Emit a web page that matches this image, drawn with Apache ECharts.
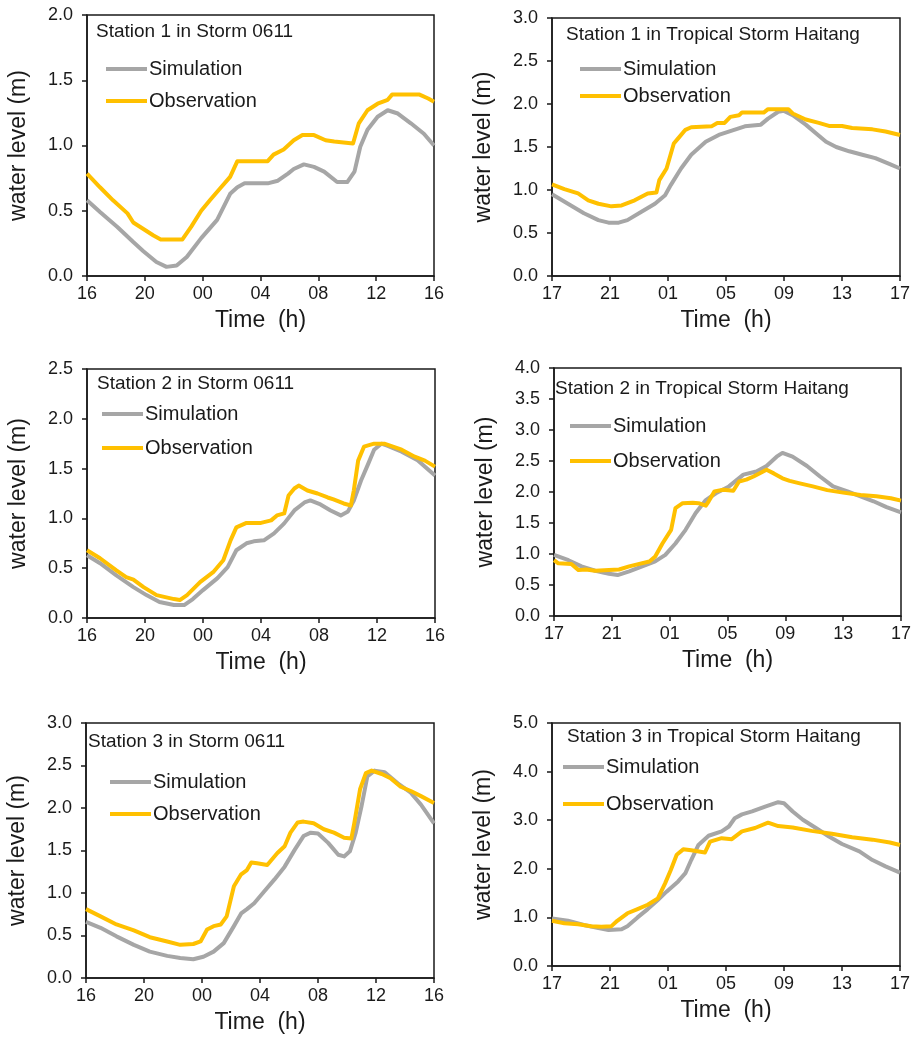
<!DOCTYPE html>
<html>
<head>
<meta charset="utf-8">
<script src="https://cdn.jsdelivr.net/npm/echarts@6/dist/echarts.min.js"></script>
<style>html,body{margin:0;padding:0;background:#fff}#c{width:916px;height:1040px}</style>
</head>
<body>
<div id="c"></div>
<script>
// ---- tick labels ----
const ticksStorm = ['16','20','00','04','08','12','16'];
const ticksHaitang = ['17','21','01','05','09','13','17'];

// ---- titles ----
const titles = [
  'Station 1 in Storm 0611', 'Station 1 in Tropical Storm Haitang',
  'Station 2 in Storm 0611', 'Station 2 in Tropical Storm Haitang',
  'Station 3 in Storm 0611', 'Station 3 in Tropical Storm Haitang'
];
const yMax = [2.0, 3.0, 2.5, 4.0, 3.0, 5.0];
const yStep = [0.5, 0.5, 0.5, 0.5, 0.5, 1.0];

// ---- data: [hours since start, water level m] ----
const st1StormSim = [[0,0.58],[0.9,0.49],[2.1,0.376],[3.2,0.26],[3.9,0.19],[4.8,0.107],[5.5,0.07],[6.2,0.08],[6.9,0.146],[7.9,0.29],[9.0,0.43],[9.9,0.63],[10.4,0.68],[10.9,0.71],[12.5,0.71],[13.2,0.73],[13.9,0.785],[14.3,0.82],[15.0,0.855],[15.7,0.836],[16.4,0.80],[17.3,0.72],[18.0,0.72],[18.5,0.80],[18.9,0.99],[19.4,1.12],[20.1,1.22],[20.8,1.27],[21.5,1.245],[22.4,1.17],[23.3,1.09],[24,1.0]];
const st1StormObs = [[0,0.785],[0.9,0.68],[1.8,0.58],[2.8,0.48],[3.2,0.41],[3.9,0.36],[4.6,0.31],[5.1,0.28],[6.6,0.28],[7.2,0.376],[7.9,0.50],[8.5,0.58],[9.2,0.67],[9.9,0.76],[10.4,0.88],[12.5,0.88],[12.9,0.93],[13.6,0.97],[14.3,1.04],[14.9,1.08],[15.7,1.08],[16.5,1.04],[17.1,1.03],[18.4,1.015],[18.8,1.17],[19.4,1.27],[20.1,1.32],[20.8,1.35],[21.1,1.39],[23.0,1.39],[23.6,1.36],[24,1.335]];
const st1HaitangSim = [[0,0.95],[1.1,0.84],[2.2,0.73],[3.2,0.65],[3.9,0.62],[4.6,0.62],[5.2,0.65],[6.2,0.75],[7.1,0.84],[7.8,0.94],[8.2,1.06],[8.9,1.25],[9.6,1.41],[10.6,1.56],[11.5,1.64],[12.4,1.69],[13.3,1.74],[14.4,1.76],[14.9,1.83],[15.6,1.91],[16.0,1.92],[16.6,1.87],[17.5,1.76],[18.2,1.66],[18.9,1.56],[19.6,1.50],[20.5,1.45],[21.4,1.41],[22.3,1.37],[23.3,1.30],[24,1.25]];
const st1HaitangObs = [[0,1.065],[0.85,1.01],[1.8,0.96],[2.5,0.88],[3.2,0.84],[4.1,0.81],[4.8,0.82],[5.7,0.88],[6.6,0.96],[7.2,0.97],[7.4,1.115],[7.9,1.25],[8.4,1.54],[8.7,1.60],[9.2,1.70],[9.6,1.73],[11.0,1.74],[11.4,1.78],[11.9,1.78],[12.3,1.85],[12.9,1.87],[13.1,1.90],[14.6,1.90],[14.9,1.94],[16.3,1.94],[16.6,1.89],[17.5,1.82],[18.4,1.78],[19.1,1.745],[20.0,1.745],[20.7,1.72],[22.1,1.705],[23.0,1.68],[24,1.64]];
const st2StormSim = [[0,0.63],[0.9,0.55],[2.0,0.43],[3.2,0.31],[4.1,0.23],[5.0,0.16],[6.0,0.13],[6.7,0.13],[7.3,0.19],[8.0,0.28],[9.0,0.40],[9.7,0.51],[10.3,0.68],[11.0,0.75],[11.5,0.77],[12.2,0.78],[12.9,0.85],[13.6,0.95],[14.3,1.08],[15.0,1.16],[15.4,1.18],[16.1,1.14],[16.8,1.08],[17.5,1.03],[18.0,1.07],[18.4,1.18],[18.9,1.38],[19.4,1.55],[19.8,1.69],[20.3,1.75],[20.7,1.73],[21.7,1.67],[22.8,1.585],[24,1.43]];
const st2StormObs = [[0,0.68],[0.9,0.60],[2.0,0.48],[2.7,0.41],[3.2,0.385],[3.9,0.31],[4.8,0.23],[6.0,0.19],[6.4,0.18],[6.9,0.23],[7.8,0.36],[8.7,0.46],[9.4,0.58],[9.9,0.78],[10.3,0.91],[11.0,0.955],[12.0,0.955],[12.7,0.98],[13.1,1.03],[13.6,1.05],[13.9,1.23],[14.3,1.30],[14.6,1.33],[15.2,1.28],[15.9,1.25],[16.6,1.21],[17.0,1.19],[17.7,1.15],[18.2,1.13],[18.4,1.28],[18.7,1.58],[19.1,1.72],[19.8,1.75],[20.5,1.75],[21.7,1.69],[22.6,1.62],[23.3,1.58],[24,1.52]];
const st2HaitangSim = [[0,0.985],[1.0,0.90],[1.9,0.80],[2.85,0.73],[3.8,0.68],[4.4,0.66],[5.2,0.72],[6.1,0.80],[7.0,0.88],[7.7,0.985],[8.4,1.17],[9.1,1.39],[9.8,1.66],[10.5,1.87],[11.2,1.98],[12.1,2.09],[13.1,2.28],[14.0,2.33],[14.7,2.42],[15.4,2.57],[15.8,2.63],[16.5,2.57],[17.5,2.42],[18.4,2.25],[19.3,2.09],[20.3,2.01],[21.2,1.93],[22.1,1.85],[23.0,1.755],[24,1.67]];
const st2HaitangObs = [[0,0.90],[0.3,0.85],[1.2,0.84],[1.7,0.74],[2.2,0.75],[2.85,0.73],[3.8,0.74],[4.5,0.75],[5.2,0.80],[5.9,0.84],[6.6,0.88],[7.0,0.96],[7.5,1.17],[8.1,1.39],[8.4,1.74],[8.9,1.82],[9.6,1.825],[10.0,1.82],[10.5,1.78],[10.7,1.85],[11.1,2.01],[11.7,2.035],[12.4,2.02],[12.8,2.17],[13.3,2.20],[13.8,2.25],[14.2,2.30],[14.7,2.36],[15.2,2.30],[15.8,2.22],[16.3,2.18],[17.0,2.14],[17.9,2.09],[18.9,2.03],[20.0,1.99],[21.2,1.95],[22.3,1.93],[23.3,1.90],[24,1.86]];
const st3StormSim = [[0,0.66],[1.0,0.59],[2.1,0.49],[3.3,0.39],[4.4,0.31],[5.6,0.26],[6.5,0.235],[7.4,0.22],[8.1,0.25],[8.8,0.31],[9.5,0.41],[10.2,0.61],[10.7,0.76],[11.1,0.81],[11.6,0.88],[12.3,1.02],[13.0,1.16],[13.7,1.31],[14.4,1.51],[15.0,1.67],[15.5,1.71],[16.0,1.70],[16.7,1.59],[17.4,1.45],[17.8,1.43],[18.2,1.49],[18.6,1.71],[19.0,2.02],[19.4,2.37],[19.9,2.44],[20.6,2.42],[21.5,2.29],[22.4,2.18],[23.1,2.04],[24,1.82]];
const st3StormObs = [[0,0.81],[1.0,0.725],[2.1,0.63],[3.3,0.56],[4.4,0.48],[5.6,0.43],[6.5,0.39],[7.4,0.40],[7.9,0.43],[8.35,0.57],[8.8,0.61],[9.3,0.63],[9.7,0.725],[10.2,1.08],[10.7,1.22],[11.1,1.27],[11.4,1.36],[11.8,1.35],[12.5,1.33],[13.2,1.47],[13.7,1.55],[14.1,1.71],[14.6,1.83],[15.0,1.84],[15.7,1.82],[16.4,1.75],[17.1,1.71],[17.8,1.65],[18.3,1.64],[18.5,1.82],[18.9,2.22],[19.3,2.41],[19.7,2.44],[20.4,2.40],[21.0,2.35],[21.7,2.25],[22.4,2.20],[23.1,2.14],[24,2.06]];
const st3HaitangSim = [[0,0.98],[1.1,0.93],[2.2,0.845],[3.2,0.78],[3.9,0.74],[4.8,0.755],[5.2,0.82],[5.9,1.0],[6.6,1.17],[7.3,1.36],[7.9,1.53],[8.7,1.74],[9.2,1.91],[9.6,2.18],[10.1,2.49],[10.8,2.68],[11.7,2.77],[12.2,2.87],[12.6,3.04],[13.1,3.12],[13.8,3.18],[14.7,3.28],[15.6,3.37],[16.0,3.35],[16.6,3.18],[17.3,3.01],[18.2,2.84],[19.1,2.665],[20.0,2.51],[21.2,2.36],[22.1,2.18],[23.0,2.05],[24,1.92]];
const st3HaitangObs = [[0,0.93],[0.85,0.88],[1.8,0.86],[2.7,0.82],[3.4,0.81],[4.1,0.82],[4.5,0.93],[5.2,1.085],[5.9,1.17],[6.6,1.26],[7.3,1.39],[7.8,1.70],[8.2,1.98],[8.6,2.29],[9.05,2.40],[9.6,2.38],[10.55,2.335],[10.9,2.56],[11.7,2.63],[12.4,2.61],[13.1,2.77],[14.0,2.84],[14.9,2.95],[15.6,2.88],[16.6,2.85],[17.9,2.78],[19.3,2.72],[20.7,2.65],[22.1,2.60],[23.3,2.54],[24,2.49]];

const simSets = [st1StormSim, st1HaitangSim, st2StormSim, st2HaitangSim, st3StormSim, st3HaitangSim];
const obsSets = [st1StormObs, st1HaitangObs, st2StormObs, st2HaitangObs, st3StormObs, st3HaitangObs];

// ---- layout (pixels) ----
const grids = [
  {left:87, top:15, width:347, height:261},
  {left:552, top:18, width:348, height:258},
  {left:87, top:369, width:348, height:249},
  {left:554, top:368, width:347, height:248},
  {left:86, top:723, width:348, height:255},
  {left:552, top:723, width:348, height:243}
];
const titlePos = [[96,22],[566,25],[97,374],[555,379],[88,732],[567,727]];
const legendPos = [[106,59,12],[580,59,7],[102,404,14],[570,416,15],[110,772,12],[563,757,17]];

const FONT = '"Liberation Sans", Arial, sans-serif';
const INK = '#1a1a1a';
const GRAY = '#a6a6a6';
const YEL = '#ffc000';

const option = {
  animation: false,
  backgroundColor: '#fff',
  textStyle: {fontFamily: FONT, color: INK},
  title: [], legend: [], grid: [], xAxis: [], yAxis: [], series: []
};

for (let i = 0; i < 6; i++) {
  const g = grids[i];
  option.grid.push({left:g.left, top:g.top, width:g.width, height:g.height, show:true, borderColor:INK, borderWidth:1.5, containLabel:false});
  option.title.push({text: titles[i], left: titlePos[i][0], top: titlePos[i][1], padding: 0,
    textStyle: {fontFamily: FONT, fontSize: 19, fontWeight: 'normal', color: INK}});
  option.legend.push({data: [{name:'Simulation', icon:'rect'}, {name:'Observation', icon:'rect'}],
    orient: 'vertical', left: legendPos[i][0], top: legendPos[i][1],
    itemGap: legendPos[i][2], itemWidth: 41, itemHeight: 4, padding: 0, selectedMode: false,
    textStyle: {fontFamily: FONT, fontSize: 20, color: INK, padding: [0, 0, 0, -3]}});
  const labels = (i % 2 === 0) ? ticksStorm : ticksHaitang;
  option.xAxis.push({type:'value', gridIndex:i, min:0, max:24, interval:4,
    name:'Time  (h)', nameLocation:'middle', nameGap:33,
    nameTextStyle:{fontFamily:FONT, fontSize:23, color:INK},
    axisLine:{show:true, onZero:false, lineStyle:{color:INK, width:1.5}},
    axisTick:{show:true, inside:false, length:5, lineStyle:{color:INK, width:1.5}},
    axisLabel:{margin:9, fontFamily:FONT, fontSize:18, color:INK, formatter: v => labels[Math.round(v/4)]},
    splitLine:{show:false}});
  option.yAxis.push({type:'value', gridIndex:i, min:0, max:yMax[i], interval:yStep[i],
    name:'water level (m)', nameLocation:'middle', nameGap:57, nameRotate:90,
    nameTextStyle:{fontFamily:FONT, fontSize:23, color:INK},
    axisLine:{show:true, onZero:false, lineStyle:{color:INK, width:1.5}},
    axisTick:{show:true, inside:false, length:5, lineStyle:{color:INK, width:1.5}},
    axisLabel:{margin:14, fontFamily:FONT, fontSize:18, color:INK, formatter: v => v.toFixed(1)},
    splitLine:{show:false}});
  option.series.push({name:'Simulation', type:'line', xAxisIndex:i, yAxisIndex:i, data: simSets[i],
    showSymbol:false, symbol:'none',
    lineStyle:{color:GRAY, width:4, join:'round'}, itemStyle:{color:GRAY}, z:2});
  option.series.push({name:'Observation', type:'line', xAxisIndex:i, yAxisIndex:i, data: obsSets[i],
    showSymbol:false, symbol:'none', lineStyle:{color:YEL, width:4, join:'round'}, itemStyle:{color:YEL}, z:3});
}

const chart = echarts.init(document.getElementById('c'), null, {renderer:'canvas'});
chart.setOption(option);
</script>
</body>
</html>
